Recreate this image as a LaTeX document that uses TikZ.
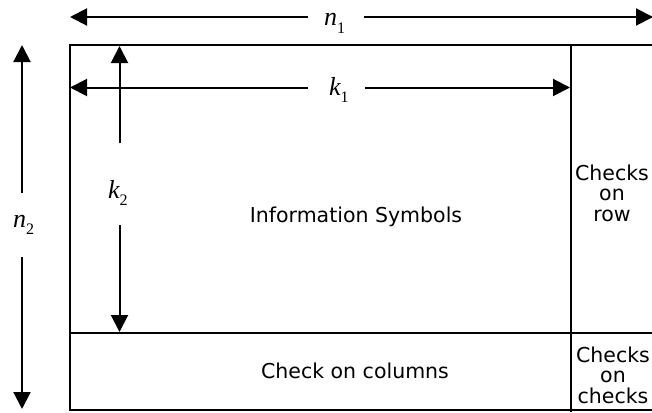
\documentclass[tikz,border=0pt]{standalone}
\usepackage{fontspec}
\setmainfont{DejaVu Sans}
\newfontfamily\labfont{Liberation Serif}
\usetikzlibrary{arrows.meta}
\newcommand\dimlab[2]{{\itshape\fontsize{26}{26}\selectfont #1}\raisebox{-7.5pt}{\fontsize{16}{16}\selectfont #2}}
\begin{document}
\begin{tikzpicture}[x=1pt,y=-1pt,
  dim/.style={line width=2pt,-{Triangle[length=17pt,width=17pt]}},
  frame/.style={line width=1.6pt},
  lbl/.style={font=\labfont,inner sep=0pt,anchor=base west},
  txt/.style={font=\fontsize{20.5}{20.5}\selectfont,inner sep=0pt,align=center}]
\useasboundingbox (0,0) rectangle (652,412);
\clip (0,0) rectangle (652,412);
\fill[white] (0,0) rectangle (652,412);
% frame
\coordinate (TL) at (70,45);
\coordinate (BR) at (662,410);
\draw[frame] (TL) rectangle (BR);
\draw[frame,line width=2pt] (571,45) -- (571,412);
\draw[frame,line width=2pt] (70,333) -- (662,333);
% texts
\node[txt,anchor=base] (info) at (356,222) {Information Symbols};
\node[txt,anchor=base] (cols) at (355,378) {Check on columns};
\node[txt,anchor=north] (row) at (612,164.5) {Checks\\on\\row};
\node[txt,anchor=north] (cc) at (613,346.5) {Checks\\on\\checks};
% labels
\node[lbl] (n1) at (324,26) {\dimlab{n}{1}};
\node[lbl] (k1) at (329,95) {\dimlab{k}{1}};
\node[lbl] (k2) at (108,198) {\dimlab{k}{2}};
\node[lbl] (n2) at (13,227) {\dimlab{n}{2}};
% gap ends and tips
\coordinate (n1a) at (308,17); \coordinate (n1L) at (70,17);
\coordinate (n1b) at (364,17); \coordinate (n1R) at (653,17);
\coordinate (k1a) at (308,87.5); \coordinate (k1L) at (70,87.5);
\coordinate (k1b) at (365,87.5); \coordinate (k1R) at (570,87.5);
\coordinate (k2a) at (119.5,143); \coordinate (k2T) at (119.5,46);
\coordinate (k2b) at (119.5,225); \coordinate (k2B) at (119.5,332);
\coordinate (n2a) at (22,193); \coordinate (n2T) at (22,45);
\coordinate (n2b) at (22,257); \coordinate (n2B) at (22,409);
\draw[dim] (n1a) -- (n1L);
\draw[dim] (n1b) -- (n1R);
\draw[dim] (k1a) -- (k1L);
\draw[dim] (k1b) -- (k1R);
\draw[dim] (k2a) -- (k2T);
\draw[dim] (k2b) -- (k2B);
\draw[dim] (n2a) -- (n2T);
\draw[dim] (n2b) -- (n2B);
\end{tikzpicture}
\end{document}
